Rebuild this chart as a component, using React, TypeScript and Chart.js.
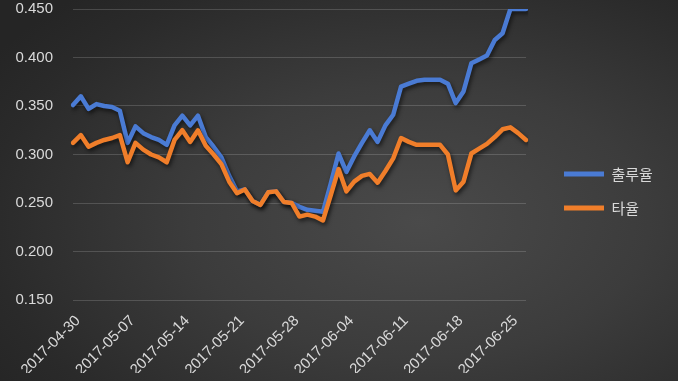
import React, { useEffect, useRef } from "react";
import { Chart, registerables } from "chart.js";

Chart.register(...registerables);

const START_DATE = "2017-04-30";
const TICK_LABELS = [
  "2017-04-30", "2017-05-07", "2017-05-14", "2017-05-21", "2017-05-28",
  "2017-06-04", "2017-06-11", "2017-06-18", "2017-06-25",
];
const SERIES_NAMES = ["출루율", "타율"];

const OBP = [
  0.351, 0.360, 0.347, 0.352, 0.350, 0.349, 0.345, 0.312, 0.329, 0.322,
  0.318, 0.315, 0.310, 0.330, 0.340, 0.330, 0.340, 0.318, 0.308, 0.297,
  0.278, 0.262, 0.264, 0.252, 0.248, 0.261, 0.262, 0.251, 0.250, 0.246,
  0.243, 0.242, 0.241, 0.270, 0.301, 0.282, 0.298, 0.312, 0.325, 0.313,
  0.330, 0.341, 0.370, 0.373, 0.376, 0.377, 0.377, 0.377, 0.373, 0.353,
  0.365, 0.394, 0.398, 0.402, 0.418, 0.425, 0.450, 0.450, 0.450,
];

const AVG = [
  0.312, 0.320, 0.308, 0.312, 0.315, 0.317, 0.320, 0.292, 0.312, 0.305,
  0.300, 0.297, 0.292, 0.315, 0.325, 0.313, 0.325, 0.309, 0.300, 0.290,
  0.272, 0.260, 0.264, 0.252, 0.248, 0.261, 0.262, 0.251, 0.250, 0.236,
  0.238, 0.236, 0.232, 0.258, 0.285, 0.262, 0.272, 0.278, 0.280, 0.271,
  0.283, 0.296, 0.317, 0.313, 0.310, 0.310, 0.310, 0.310, 0.300, 0.263,
  0.272, 0.301, 0.306, 0.311, 0.318, 0.326, 0.328, 0.322, 0.315,
];

const Y_MIN = 0.15;
const Y_MAX = 0.45;
const Y_STEP = 0.05;

function buildDates(start: string, n: number): string[] {
  const out: string[] = [];
  const base = new Date(start + "T00:00:00Z").getTime();
  for (let i = 0; i < n; i++) {
    out.push(new Date(base + i * 86400000).toISOString().slice(0, 10));
  }
  return out;
}

const BLUE = "#4a7bd4";
const ORANGE = "#f07e2a";
const TEXT = "#d9d9d9";
const TICK_FONT = { family: "'Liberation Sans', Arial, sans-serif", size: 15 };

const shadowPlugin = {
  id: "lineShadow",
  beforeDatasetDraw(chart: any) {
    const ctx = chart.ctx;
    ctx.save();
    ctx.shadowColor = "rgba(0,0,0,0.6)";
    ctx.shadowBlur = 4;
    ctx.shadowOffsetX = 1.5;
    ctx.shadowOffsetY = 2.5;
  },
  afterDatasetDraw(chart: any) {
    chart.ctx.restore();
  },
};

export default function App() {
  const ref = useRef<HTMLCanvasElement | null>(null);

  useEffect(() => {
    if (!ref.current) return;
    const labels = buildDates(START_DATE, OBP.length);
    const chart = new Chart(ref.current, {
      type: "line",
      data: {
        labels,
        datasets: [
          {
            label: SERIES_NAMES[0],
            data: OBP,
            borderColor: BLUE,
            backgroundColor: BLUE,
            borderWidth: 4.5,
            pointRadius: 0,
            tension: 0,
            borderJoinStyle: "round",
            borderCapStyle: "round",
            order: 1,
          },
          {
            label: SERIES_NAMES[1],
            data: AVG,
            borderColor: ORANGE,
            backgroundColor: ORANGE,
            borderWidth: 4.5,
            pointRadius: 0,
            tension: 0,
            borderJoinStyle: "round",
            borderCapStyle: "round",
            order: 0,
          },
        ],
      },
      options: {
        responsive: true,
        maintainAspectRatio: false,
        animation: false,
        layout: { padding: { top: 9, right: 24, bottom: 8, left: 0 } },
        plugins: {
          tooltip: { enabled: false },
          legend: {
            position: "right",
            labels: {
              boxWidth: 40,
              boxHeight: 5,
              padding: 19,
              color: TEXT,
              font: { family: "'Noto Sans CJK KR', sans-serif", size: 15 },
              generateLabels: (c: any) =>
                c.data.datasets.map((ds: any, i: number) => ({
                  text: ds.label,
                  fillStyle: ds.borderColor,
                  strokeStyle: ds.borderColor,
                  lineWidth: 0,
                  fontColor: TEXT,
                  datasetIndex: i,
                  hidden: false,
                })),
            },
          },
        },
        scales: {
          x: {
            type: "category",
            offset: false,
            grid: { display: false },
            border: { display: false },
            ticks: {
              autoSkip: false,
              minRotation: 45,
              maxRotation: 45,
              padding: 4,
              labelOffset: 5,
              color: TEXT,
              font: TICK_FONT,
              callback: function (this: any, v: any) {
                const l = this.getLabelForValue(v);
                return TICK_LABELS.includes(l) ? l : null;
              },
            },
            afterFit: (s: any) => {
              s.height = 73;
              s.paddingLeft = 0;
              s.paddingRight = 0;
            },
          },
          y: {
            min: Y_MIN,
            max: Y_MAX,
            ticks: {
              stepSize: Y_STEP,
              padding: 20,
              color: TEXT,
              font: TICK_FONT,
              callback: (v: any) => Number(v).toFixed(3),
            },
            grid: { color: "rgba(255,255,255,0.16)", drawTicks: false, lineWidth: 1 },
            border: { display: false },
            afterFit: (s: any) => {
              s.width = 73;
              s.paddingTop = 0;
              s.paddingBottom = 0;
            },
          },
          gap: {
            position: "right",
            display: true,
            grid: { display: false },
            border: { display: false },
            ticks: { display: false },
            afterFit: (s: any) => {
              s.width = 19;
              s.paddingTop = 0;
              s.paddingBottom = 0;
            },
          },
        },
      } as any,
      plugins: [shadowPlugin],
    });
    return () => chart.destroy();
  }, []);

  return (
    <div
      style={{
        position: "fixed",
        left: 0,
        top: 0,
        width: 678,
        height: 381,
        background:
          "radial-gradient(ellipse 75% 80% at 62% 58%, #4a4a4a 0%, #3c3c3c 45%, #2a2a2a 85%, #252525 100%)",
      }}
    >
      <canvas ref={ref} />
    </div>
  );
}
